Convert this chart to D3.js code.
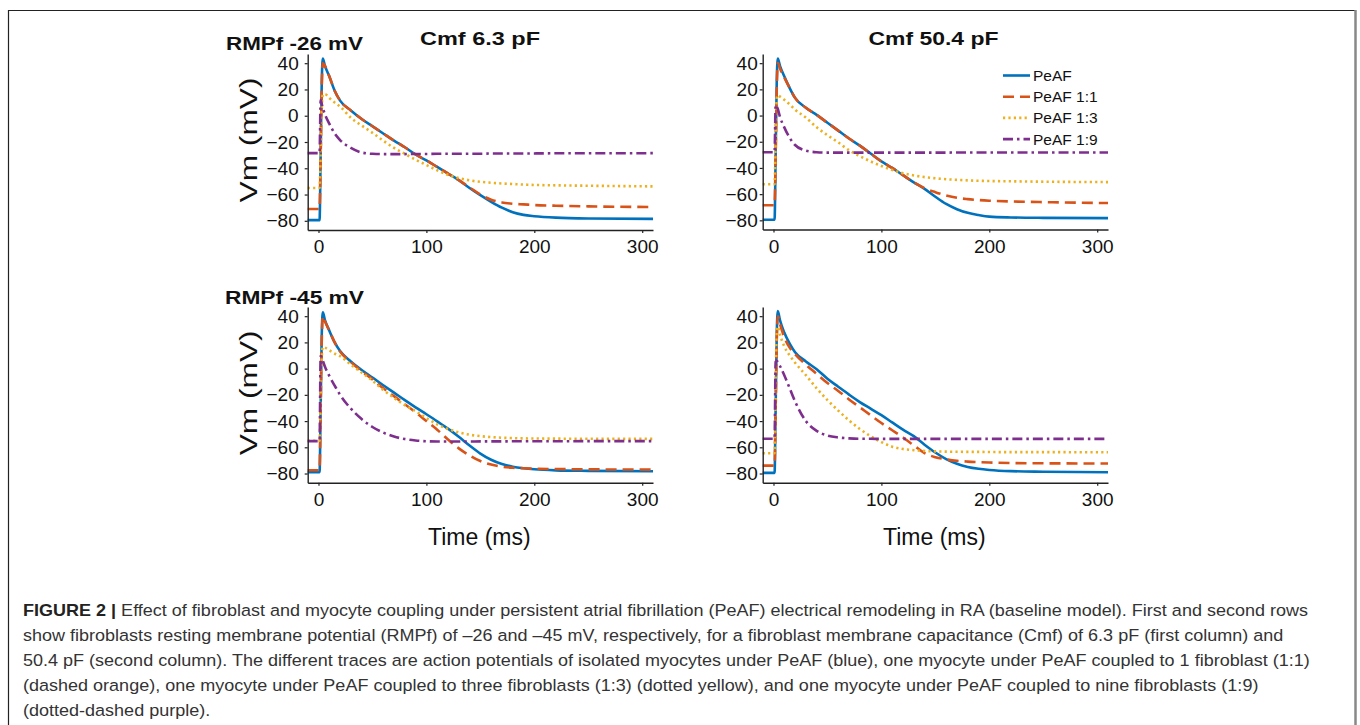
<!DOCTYPE html>
<html><head><meta charset="utf-8">
<script src="https://cdn.jsdelivr.net/npm/d3@7"></script>
<style>
html,body{margin:0;padding:0;background:#fff;}
svg{display:block;}
text{font-family:"Liberation Sans",Arial,Helvetica,sans-serif;}
</style></head><body>
<svg id="chart" width="1360" height="725"></svg>
<script>
// ---------------- data ----------------
const timeMs = [-10,1,2,3,4,6,10,15,20,30,40,50,60,70,80,90,100,110,120,130,140,150,160,170,180,190,200,220,250,310];
const xTicks = [0,100,200,300];
const yTicks = [-80,-60,-40,-20,0,20,40];
const seriesNames = ["PeAF","PeAF 1:1","PeAF 1:3","PeAF 1:9"];
const rowLabels = ["RMPf -26 mV","RMPf -45 mV"];
const colLabels = ["Cmf 6.3 pF","Cmf 50.4 pF"];
const yLabel = "Vm (mV)";
const xLabel = "Time (ms)";

// RMPf -26 mV, Cmf 6.3 pF
const tl_PeAF = [-79.5,-79.5,-30,25,43.5,38,30,19,11.5,4,-2.5,-8,-13.5,-19,-24,-29.5,-34,-39,-44,-49,-55,-60.5,-65.5,-70,-73.5,-75.5,-76.5,-77.6,-78.2,-78.5];
const tl_1_1  = [-71,-71,-30,20,40,38,30,19,11.5,4,-2.5,-8,-13.5,-19,-24,-29.5,-34,-39,-44,-49,-54.5,-60,-64,-66,-67,-67.5,-68,-68.5,-69,-69.5];
const tl_1_3  = [-55,-55,-30,5,16,16.5,13.5,10,7,-1.5,-7.5,-13,-19,-24.5,-29,-33.5,-37.5,-41.5,-45,-47.5,-49.2,-50.3,-51,-51.6,-52,-52.4,-52.7,-53,-53.3,-53.8];
const tl_1_9  = [-28.5,-28.5,12,9,6,1,-6,-13.5,-18.5,-24.5,-28,-29,-29.2,-29.2,-29.2,-29.1,-29.1,-29,-29,-29,-28.9,-28.9,-28.8,-28.8,-28.8,-28.7,-28.7,-28.6,-28.6,-28.5];
// RMPf -26 mV, Cmf 50.4 pF
const tr_PeAF = [-79.5,-79.5,-30,25,43.5,38,30,21,13.5,6,0.5,-5.5,-11.5,-17.5,-23,-29,-35,-40,-45.5,-51,-56,-62,-67.5,-71.5,-74.3,-76,-77.2,-77.8,-78.1,-78.3];
const tr_1_1  = [-68.5,-68.5,-30,20,40,36,29,21,13.5,6,0.5,-5.5,-11.5,-17.5,-23,-29,-35,-40,-45.5,-51,-55.5,-58.5,-61,-62.8,-63.8,-64.5,-65,-65.6,-66.1,-66.8];
const tr_1_3  = [-52.5,-52.5,-20,13,15.5,14.5,12,8.5,4.5,-1.5,-9,-15,-20.5,-26.5,-31,-35,-38.5,-41.5,-44,-45.7,-47,-47.9,-48.6,-49.1,-49.5,-49.8,-50,-50.2,-50.5,-50.8];
const tr_1_9  = [-28,-28,8,7,5,-1,-9,-17,-22.5,-26.8,-28,-28.3,-28.3,-28.3,-28.3,-28.3,-28.3,-28.3,-28.3,-28.3,-28.3,-28.3,-28.3,-28.2,-28.2,-28.2,-28.2,-28.2,-28.2,-28.2];
// RMPf -45 mV, Cmf 6.3 pF
const bl_PeAF = [-79,-79,-30,25,43,37,29,20,13.4,5.5,-1,-6.8,-12.7,-18.3,-24,-29.5,-34.8,-40.2,-45.8,-52,-58.6,-64.8,-69.5,-72.8,-74.8,-76,-76.8,-77.6,-78,-78.3];
const bl_1_1  = [-77.5,-77.5,-30,20,40,36,29,20,13,5,-2,-8.2,-15,-21,-27.2,-33.3,-40,-46.6,-54,-60.8,-66.2,-70.5,-73.2,-74.8,-75.6,-76,-76.3,-76.6,-76.8,-77];
const bl_1_3  = [-55,-55,-25,8,16.5,16,14,11.5,9.5,3,-3,-9.2,-16.2,-22.3,-27.8,-32.5,-37.7,-42.5,-46,-48.6,-50.4,-51.5,-52.2,-52.7,-53,-53.2,-53.3,-53.4,-53.5,-53.6];
const bl_1_9  = [-55.3,-55.3,9.5,8,6,1.5,-5.5,-13,-20,-30.5,-38.5,-44.5,-48.8,-51.8,-53.7,-54.8,-55.4,-55.6,-55.6,-55.6,-55.6,-55.5,-55.5,-55.5,-55.4,-55.4,-55.4,-55.4,-55.3,-55.3];
// RMPf -45 mV, Cmf 50.4 pF
const br_PeAF = [-79.5,-79.5,-30,25,44,37,27.5,19,12.5,5.5,-0.5,-7.7,-13.8,-19.8,-25.5,-30.5,-35.5,-41,-46.5,-51.5,-58,-64,-69,-72.6,-75,-76.4,-77.3,-78.2,-78.6,-79];
const br_1_1  = [-74,-74,-30,20,40,34,24,16,11,3,-4,-11,-17,-23.5,-29.5,-35.5,-41.5,-47,-52.5,-58.5,-64.5,-67.5,-69.2,-70.3,-70.9,-71.3,-71.6,-72,-72.2,-72.4];
const br_1_3  = [-64.5,-64.5,-20,30,32,26,17,10,4.5,-5,-15,-24,-32,-39.5,-46,-51.5,-56,-59.5,-61.3,-62.2,-62.8,-63.1,-63.3,-63.4,-63.5,-63.5,-63.6,-63.7,-63.7,-63.8];
const br_1_9  = [-53.5,-53.5,5,6,5,2,-5,-15,-25,-40,-47.5,-51,-52.5,-53.2,-53.5,-53.5,-53.6,-53.6,-53.6,-53.6,-53.6,-53.6,-53.6,-53.6,-53.6,-53.6,-53.6,-53.6,-53.6,-53.6];

const captionBold = "FIGURE 2 |";
const captionLines = [
  " Effect of fibroblast and myocyte coupling under persistent atrial fibrillation (PeAF) electrical remodeling in RA (baseline model). First and second rows",
  "show fibroblasts resting membrane potential (RMPf) of \u201326 and \u201345 mV, respectively, for a fibroblast membrane capacitance (Cmf) of 6.3 pF (first column) and",
  "50.4 pF (second column). The different traces are action potentials of isolated myocytes under PeAF (blue), one myocyte under PeAF coupled to 1 fibroblast (1:1)",
  "(dashed orange), one myocyte under PeAF coupled to three fibroblasts (1:3) (dotted yellow), and one myocyte under PeAF coupled to nine fibroblasts (1:9)",
  "(dotted-dashed purple)."
];

// ---------------- styles ----------------
const colors = ["#0072BD","#D95319","#EDB120","#7E2F8E"];
const dashes = [null,"11,6","2.2,3.2","10,4,2.5,4"];
const widths = [2.6,2.6,2.6,2.6];

const svg = d3.select("#chart");

// frame
svg.append("line").attr("x1",8).attr("x2",1356).attr("y1",10.5).attr("y2",10.5).attr("stroke","#222").attr("stroke-width",1.2);
svg.append("line").attr("x1",8.5).attr("x2",8.5).attr("y1",10).attr("y2",725).attr("stroke","#222").attr("stroke-width",1.2);
svg.append("line").attr("x1",1355.5).attr("x2",1355.5).attr("y1",10).attr("y2",725).attr("stroke","#888").attr("stroke-width",2.5);

const panels = [
  {row:0,col:0,data:[tl_PeAF,tl_1_1,tl_1_3,tl_1_9],x0:307.7,x1:653,yT:54,yB:230,pad:9},
  {row:0,col:1,data:[tr_PeAF,tr_1_1,tr_1_3,tr_1_9],x0:762.7,x1:1108,yT:54,yB:229.5,pad:5},
  {row:1,col:0,data:[bl_PeAF,bl_1_1,bl_1_3,bl_1_9],x0:307.7,x1:653,yT:307,yB:482.7,pad:9},
  {row:1,col:1,data:[br_PeAF,br_1_1,br_1_3,br_1_9],x0:762.7,x1:1108,yT:307,yB:482.7,pad:5}
];

panels.forEach(p=>{
  const x = d3.scaleLinear().domain([-10,310]).range([p.x0,p.x1]);
  const y = d3.scaleLinear().domain([-87,47]).range([p.yB,p.yT]);
  const g = svg.append("g");

  const line = d3.line().x((d,i)=>x(timeMs[i])).y(d=>y(d)).curve(d3.curveMonotoneX);
  p.data.forEach((s,k)=>{
    g.append("path").datum(s).attr("d",line).attr("fill","none")
      .attr("stroke",colors[k]).attr("stroke-width",widths[k])
      .attr("stroke-dasharray",dashes[k]).attr("stroke-linejoin","round");
  });

  const ax = g.append("g").attr("transform",`translate(0,${p.yB})`)
    .call(d3.axisBottom(x).tickValues(xTicks).tickSize(3).tickSizeOuter(0).tickPadding(7));
  const ay = g.append("g").attr("transform",`translate(${p.x0},0)`)
    .call(d3.axisLeft(y).tickValues(yTicks).tickSize(3).tickSizeOuter(0).tickPadding(p.pad-3));
  [ax,ay].forEach(a=>{
    a.select(".domain").attr("stroke","#222").attr("stroke-width",1.4);
    a.selectAll(".tick line").attr("stroke","#222").attr("stroke-width",1.2);
    a.selectAll(".tick text").attr("fill","#111").style("font-size","19px").style("font-family","'Liberation Sans',Arial,sans-serif");
  });
  ax.selectAll(".tick text").attr("dy","0.71em");

  if(p.col===0){
    const cy = (p.yT+p.yB)/2;
    svg.append("text").attr("transform",`translate(256.5,${cy-2}) rotate(-90)`)
      .attr("text-anchor","middle").attr("fill","#111").style("font-size","23px")
      .attr("textLength",125).attr("lengthAdjust","spacingAndGlyphs").text(yLabel);
  }
  if(p.row===1){
    svg.append("text").attr("x",(p.x0+p.x1)/2-1).attr("y",545)
      .attr("text-anchor","middle").attr("fill","#111").style("font-size","23px").text(xLabel);
  }
  if(p.col===1 && p.row===0){
    const lg = svg.append("g");
    seriesNames.forEach((n,k)=>{
      const yy = 75.5 + k*21.2;
      lg.append("line").attr("x1",1003).attr("x2",1030).attr("y1",yy).attr("y2",yy)
        .attr("stroke",colors[k]).attr("stroke-width",widths[k]).attr("stroke-dasharray",dashes[k]);
      lg.append("text").attr("x",1033).attr("y",yy).attr("dy","0.36em").attr("fill","#111")
        .style("font-size","15.5px").text(n);
    });
  }
});

// row / column labels
svg.append("text").attr("x",226).attr("y",50).attr("font-weight","bold").style("font-size","18.5px")
  .attr("textLength",137).attr("lengthAdjust","spacingAndGlyphs").attr("fill","#111").text(rowLabels[0]);
svg.append("text").attr("x",225).attr("y",304).attr("font-weight","bold").style("font-size","18.5px")
  .attr("textLength",139).attr("lengthAdjust","spacingAndGlyphs").attr("fill","#111").text(rowLabels[1]);
svg.append("text").attr("x",420).attr("y",45).attr("font-weight","bold").style("font-size","19px")
  .attr("textLength",120).attr("lengthAdjust","spacingAndGlyphs").attr("fill","#111").text(colLabels[0]);
svg.append("text").attr("x",868.5).attr("y",45).attr("font-weight","bold").style("font-size","19px")
  .attr("textLength",130).attr("lengthAdjust","spacingAndGlyphs").attr("fill","#111").text(colLabels[1]);

// caption
const capG = svg.append("g");
const capTexts = captionLines.map((ln,i)=>{
  const t = capG.append("text").attr("x",0).attr("y",616+i*25).attr("fill","#333").style("font-size","16.5px");
  if(i===0){
    t.append("tspan").attr("font-weight","bold").attr("fill","#222").text(captionBold);
    t.append("tspan").text(ln);
  } else t.text(ln);
  return t;
});
const natural = capTexts[0].node().getComputedTextLength();
const f = (1309-23)/natural;
capG.attr("transform",`translate(23,0) scale(${f},1)`);
</script>
</body></html>
